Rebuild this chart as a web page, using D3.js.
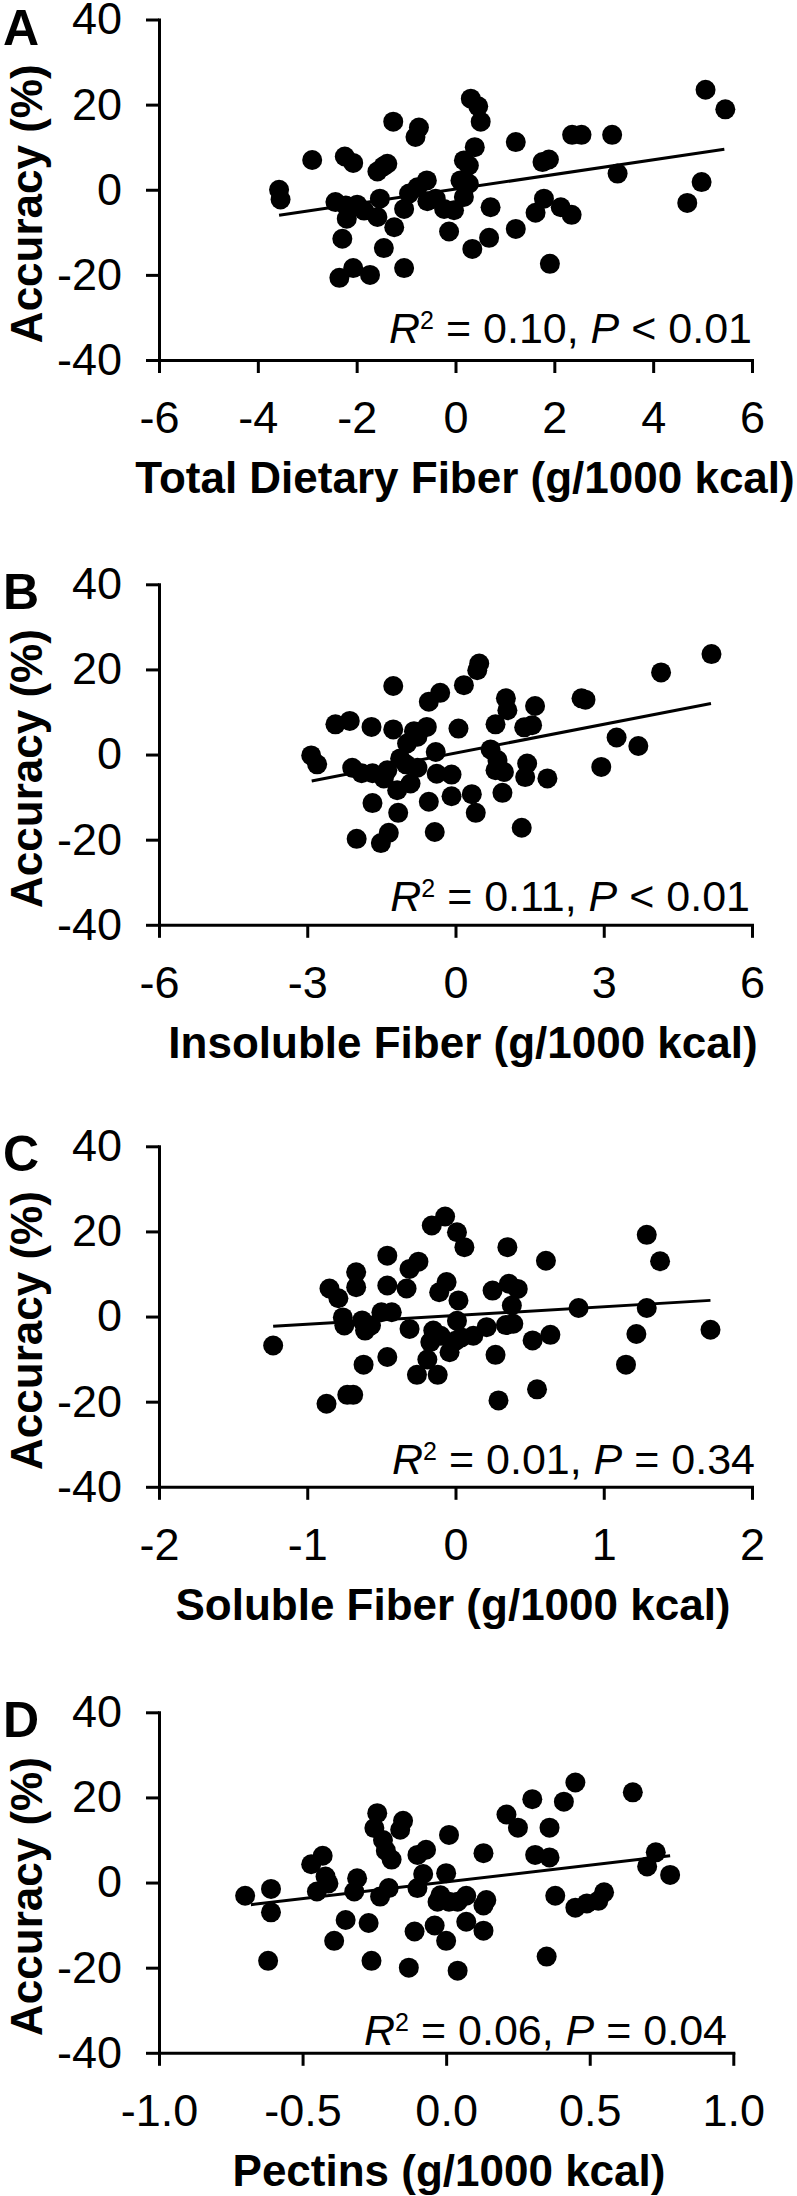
<!DOCTYPE html>
<html>
<head>
<meta charset="utf-8">
<script src="https://cdn.jsdelivr.net/npm/d3@7"></script>
<style>
  html, body { margin: 0; padding: 0; background: #fff; }
  svg { display: block; }
</style>
</head>
<body>
<script>
// ---------- DATA ----------
const panelLetters = ["A", "B", "C", "D"];
const xTitles = [
  "Total Dietary Fiber (g/1000 kcal)",
  "Insoluble Fiber (g/1000 kcal)",
  "Soluble Fiber (g/1000 kcal)",
  "Pectins (g/1000 kcal)"
];
const yTitle = "Accuracy (%)";
const yTicks = [-40, -20, 0, 20, 40];
const yTickLabels = ["-40", "-20", "0", "20", "40"];

const xTicksA = [-6, -4, -2, 0, 2, 4, 6];
const xTickLabelsA = ["-6", "-4", "-2", "0", "2", "4", "6"];
const xTicksB = [-6, -3, 0, 3, 6];
const xTickLabelsB = ["-6", "-3", "0", "3", "6"];
const xTicksC = [-2, -1, 0, 1, 2];
const xTickLabelsC = ["-2", "-1", "0", "1", "2"];
const xTicksD = [-1.0, -0.5, 0.0, 0.5, 1.0];
const xTickLabelsD = ["-1.0", "-0.5", "0.0", "0.5", "1.0"];

const statR2 = ["0.10", "0.11", "0.01", "0.06"];
const statPop = ["<", "<", "=", "="];
const statP = ["0.01", "0.01", "0.34", "0.04"];

// scatter points [x, accuracy %]
const pointsA = [
  [-3.57,0.0],[-3.54,-2.3],[-2.90,7.0],[-2.24,7.8],[-2.07,6.3],[-1.26,16.0],[-0.74,14.6],[-0.81,12.4],
  [-1.38,6.1],[-1.58,4.3],[-1.46,5.5],[-2.43,-2.9],[-2.22,-3.7],[-1.99,-3.5],[-1.85,-4.9],[-2.20,-6.8],
  [-2.29,-11.5],[-1.53,-2.1],[-1.58,-6.4],[-1.24,-8.8],[-1.45,-13.7],[-2.35,-20.7],[-2.07,-18.4],[-1.73,-20.0],
  [-1.04,-18.4],[-1.04,-4.5],[-0.94,-0.9],[-0.77,0.6],[-0.58,2.2],[-0.57,-2.7],[-0.40,-2.1],[-0.23,-4.5],
  [-0.13,-9.8],[-0.03,-4.8],[0.31,21.4],[0.46,19.6],[0.51,16.0],[0.39,10.0],[0.17,6.9],[0.27,5.7],
  [0.10,2.2],[0.27,1.4],[0.17,-1.7],[0.71,-4.1],[0.68,-11.3],[0.34,-13.9],[1.22,11.2],[1.22,-9.2],
  [1.76,6.5],[1.89,7.1],[1.79,-2.1],[1.62,-5.4],[2.13,-4.1],[2.35,-5.9],[1.91,-17.4],[2.36,12.9],
  [2.55,12.9],[3.17,12.9],[3.28,3.8],[5.06,23.5],[5.46,18.9],[4.98,1.8],[4.69,-3.1]
];
const pointsB = [
  [-2.92,-0.2],[-2.80,-2.3],[-2.43,7.1],[-2.14,7.9],[-1.70,6.5],[-1.26,16.1],[-1.26,5.9],[-2.09,-3.1],
  [-1.90,-4.4],[-1.68,-4.4],[-1.38,-3.7],[-1.45,-5.6],[-1.18,-8.4],[-0.91,-6.8],[-1.12,-0.9],[-0.98,2.6],
  [-0.77,4.2],[-0.84,5.5],[-0.77,-3.1],[-1.00,-2.3],[-0.58,6.5],[-0.40,0.6],[-0.38,-4.5],[-0.08,-4.7],
  [-0.54,12.4],[-0.31,14.5],[-1.68,-11.4],[-1.16,-13.7],[-0.54,-11.1],[-0.08,-9.8],[-2.00,-19.8],[-1.51,-20.8],
  [-1.35,-18.4],[-0.42,-18.2],[0.06,6.1],[0.17,16.3],[0.48,21.4],[0.44,19.8],[1.02,13.2],[1.05,10.4],
  [0.81,7.1],[1.61,11.4],[1.55,6.9],[1.39,6.4],[0.71,1.2],[0.85,-1.3],[0.81,-3.7],[0.98,-4.1],
  [1.45,-2.1],[1.41,-5.3],[1.86,-5.6],[0.95,-9.0],[0.33,-9.3],[0.41,-13.7],[1.34,-17.2],[2.55,13.2],
  [2.63,12.9],[3.26,4.0],[3.70,2.0],[2.95,-2.9],[4.16,19.3],[5.18,23.6]
];
const pointsC = [
  [-1.23,-6.8],[-0.85,6.6],[-0.79,4.3],[-0.76,-0.2],[-0.75,-2.1],[-0.67,10.4],[-0.67,6.9],[-0.63,-0.9],
  [-0.61,-3.3],[-0.57,-2.1],[-0.50,1.0],[-0.43,1.0],[-0.46,14.3],[-0.46,7.3],[-0.33,6.6],[-0.31,11.2],
  [-0.25,12.9],[-0.31,-2.9],[-0.62,-11.3],[-0.46,-9.5],[-0.87,-20.5],[-0.73,-18.4],[-0.69,-18.4],[-0.26,-13.7],
  [-0.12,-13.7],[-0.19,-10.1],[-0.17,-6.0],[-0.15,-3.3],[-0.16,21.4],[-0.07,23.5],[0.01,19.8],[0.06,16.3],
  [-0.11,5.7],[-0.06,8.1],[0.02,3.8],[-0.10,-4.5],[-0.04,-8.4],[0.00,-5.7],[0.01,-1.0],[0.04,-4.9],
  [0.12,-4.5],[0.21,-2.5],[0.25,6.1],[0.35,16.3],[0.36,7.7],[0.42,6.5],[0.38,2.6],[0.34,-2.0],
  [0.39,-1.7],[0.27,-9.0],[0.29,-19.7],[0.52,-5.6],[0.64,-4.3],[0.55,-17.1],[0.61,13.1],[0.83,2.0],
  [1.29,19.2],[1.38,13.0],[1.29,2.0],[1.22,-4.1],[1.15,-11.3],[1.72,-3.1]
];
const pointsD = [
  [-0.70,-3.1],[-0.61,-1.5],[-0.61,-7.0],[-0.62,-18.4],[-0.47,4.3],[-0.43,6.3],[-0.42,1.4],[-0.41,-0.2],
  [-0.45,-2.1],[-0.31,1.0],[-0.32,-2.1],[-0.23,-3.3],[-0.20,-1.3],[-0.24,16.3],[-0.25,12.8],[-0.22,10.0],
  [-0.21,7.5],[-0.19,5.4],[-0.15,14.5],[-0.16,12.4],[-0.10,6.5],[-0.07,7.7],[-0.08,2.0],[-0.10,-1.3],
  [0.01,11.2],[0.00,2.2],[-0.02,-3.0],[-0.03,-4.5],[0.01,-4.5],[-0.35,-8.8],[-0.27,-9.5],[-0.39,-13.7],
  [-0.26,-18.4],[-0.11,-11.5],[-0.04,-10.1],[-0.13,-20.0],[0.00,-13.7],[0.04,-20.7],[0.13,6.9],[0.07,-3.1],
  [0.14,-4.1],[0.13,-5.4],[0.04,-4.5],[0.07,-9.2],[0.13,-11.3],[0.21,16.0],[0.25,12.9],[0.30,19.6],
  [0.41,19.0],[0.45,23.5],[0.36,12.9],[0.31,6.5],[0.36,5.9],[0.38,-3.1],[0.45,-5.9],[0.49,-4.9],
  [0.53,-4.3],[0.55,-2.3],[0.35,-17.4],[0.65,21.2],[0.73,7.1],[0.70,3.8],[0.78,1.8]
];

// fitted regression line end points [x, y]
const fitA = [[-3.57,-6.0],[5.44,9.5]];
const fitB = [[-2.91,-6.2],[5.17,12.0]];
const fitC = [[-1.23,-2.3],[1.72,3.8]];
const fitD = [[-0.68,-5.2],[0.78,6.3]];

// ---------- LAYOUT ----------
const W = 797, H = 2196;
const plotTops = [19.5, 584.3, 1146.3, 1712.3];
const plotH = 340.5;
const xLeft = 159;
const xRights = [752, 752, 752, 733.3];
const titleCenters = [465, 463, 453, 449];
const statRight = [752, 750, 755, 727];
const statDy = [-17, -14, -13, -8];
const FONT = "'Liberation Sans', Arial, Helvetica, sans-serif";

const panels = [
  { pts: pointsA, fit: fitA, ticks: xTicksA, labels: xTickLabelsA },
  { pts: pointsB, fit: fitB, ticks: xTicksB, labels: xTickLabelsB },
  { pts: pointsC, fit: fitC, ticks: xTicksC, labels: xTickLabelsC },
  { pts: pointsD, fit: fitD, ticks: xTicksD, labels: xTickLabelsD }
];

const svg = d3.select("body").append("svg")
  .attr("width", W).attr("height", H)
  .style("font-family", FONT);

panels.forEach((p, i) => {
  const top = plotTops[i], bottom = top + plotH;
  const ext = d3.extent(p.ticks);
  const x = d3.scaleLinear().domain(ext).range([xLeft, xRights[i]]);
  const y = d3.scaleLinear().domain([-40, 40]).range([bottom, top]);
  const g = svg.append("g");

  // axes
  const ya = g.append("g").attr("transform", `translate(${xLeft},0)`)
    .call(d3.axisLeft(y).tickValues(yTicks)
      .tickFormat(d => yTickLabels[yTicks.indexOf(d)])
      .tickSize(13).tickSizeOuter(0).tickPadding(24));
  const xa = g.append("g").attr("transform", `translate(0,${bottom})`)
    .call(d3.axisBottom(x).tickValues(p.ticks)
      .tickFormat(d => p.labels[p.ticks.indexOf(d)])
      .tickSize(13).tickSizeOuter(0).tickPadding(28));
  [ya, xa].forEach(a => {
    a.attr("font-family", FONT).attr("font-size", 45);
    a.selectAll("path.domain").attr("stroke", "#000").attr("stroke-width", 3).attr("stroke-linecap", "square");
    a.selectAll(".tick line").attr("stroke", "#000").attr("stroke-width", 3);
    a.selectAll(".tick text").attr("fill", "#000");
  });

  // regression line
  g.append("path")
    .datum(p.fit)
    .attr("d", d3.line().x(d => x(d[0])).y(d => y(d[1])))
    .attr("fill", "none").attr("stroke", "#000").attr("stroke-width", 3);

  // points
  g.append("g").selectAll("circle").data(p.pts).join("circle")
    .attr("cx", d => x(d[0])).attr("cy", d => y(d[1]))
    .attr("r", 10).attr("fill", "#000");

  // panel letter
  g.append("text").attr("x", 3).attr("y", top + 25)
    .attr("font-size", 50).attr("font-weight", "bold").text(panelLetters[i]);

  // y title
  g.append("text")
    .attr("transform", `translate(42,${(top + bottom) / 2 + 14}) rotate(-90)`)
    .attr("text-anchor", "middle").attr("font-size", 44).attr("font-weight", "bold")
    .text(yTitle);

  // x title
  g.append("text")
    .attr("x", titleCenters[i]).attr("y", bottom + 133)
    .attr("text-anchor", "middle").attr("font-size", 44).attr("font-weight", "bold")
    .text(xTitles[i]);

  // statistics annotation
  const st = g.append("text").attr("x", statRight[i]).attr("y", bottom + statDy[i])
    .attr("text-anchor", "end").attr("font-size", 43);
  st.append("tspan").attr("font-style", "italic").text("R");
  st.append("tspan").attr("font-size", 25).attr("dy", -14).text("2");
  st.append("tspan").attr("dy", 14).text(` = ${statR2[i]}, `);
  st.append("tspan").attr("font-style", "italic").text("P");
  st.append("tspan").text(` ${statPop[i]} ${statP[i]}`);
});
</script>
</body>
</html>
